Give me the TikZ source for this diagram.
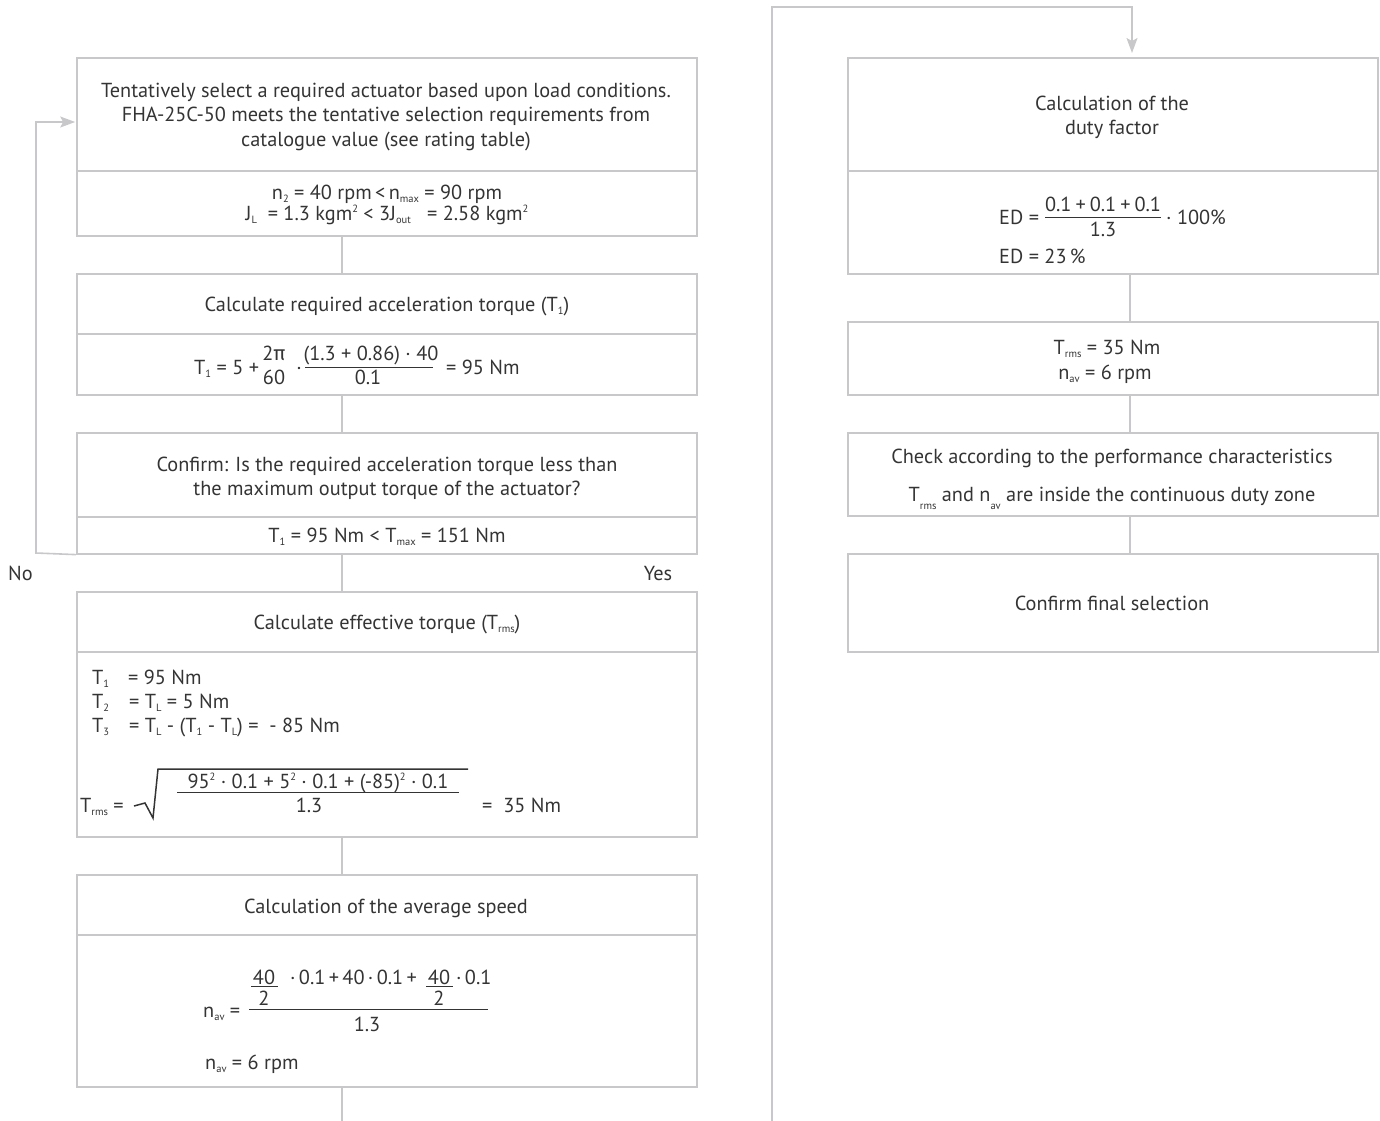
\documentclass[tikz,border=0pt]{standalone}
\usepackage{fontspec}
\setmainfont{PT Sans}
\newfontfamily\grk{Fira Sans}
\usetikzlibrary{arrows.meta}
\definecolor{linec}{RGB}{200,200,203}
\definecolor{txt}{RGB}{52,52,52}
\newcommand{\lo}[1]{\raisebox{-0.35ex}{\fontsize{10.5}{11}\selectfont #1}}
\newcommand{\llo}[1]{\raisebox{-0.8ex}{\fontsize{10.5}{11}\selectfont #1}}
\newcommand{\hi}[1]{\raisebox{0.7ex}{\fontsize{10.5}{11}\selectfont #1}}
\begin{document}
\begin{tikzpicture}[x=1pt,y=-1pt,
  sec/.style={draw=linec, line width=1.6pt, rectangle, inner sep=0pt, anchor=north west},
  conn/.style={draw=linec, line width=1.6pt},
  arr/.style={conn, -{Stealth[length=15pt,width=11pt,inset=3pt]}},
  lbl/.style={inner sep=0pt, text=txt, font=\fontsize{20.3}{24}\selectfont, anchor=base},
  lblw/.style={lbl, anchor=base west},
  fbar/.style={draw=txt, line width=1pt}
]
\useasboundingbox (0,0) rectangle (1380,1120);

% ---------- boxes, left column ----------
\node[sec, minimum width=620pt, minimum height=113pt] (b1a) at (76,57) {};
\node[sec, minimum width=620pt, minimum height=65pt]  (b1b) at (76,170) {};
\node[sec, minimum width=620pt, minimum height=60pt]  (b2a) at (76,273) {};
\node[sec, minimum width=620pt, minimum height=61pt]  (b2b) at (76,333) {};
\node[sec, minimum width=620pt, minimum height=84pt]  (b3a) at (76,432) {};
\node[sec, minimum width=620pt, minimum height=37pt]  (b3b) at (76,516) {};
\node[sec, minimum width=620pt, minimum height=60pt]  (b4a) at (76,591) {};
\node[sec, minimum width=620pt, minimum height=185pt] (b4b) at (76,651) {};
\node[sec, minimum width=620pt, minimum height=60pt]  (b5a) at (76,874) {};
\node[sec, minimum width=620pt, minimum height=152pt] (b5b) at (76,934) {};

% ---------- boxes, right column ----------
\node[sec, minimum width=530pt, minimum height=113pt] (b6a) at (847,57) {};
\node[sec, minimum width=530pt, minimum height=103pt] (b6b) at (847,170) {};
\node[sec, minimum width=530pt, minimum height=73pt]  (b7)  at (847,321) {};
\node[sec, minimum width=530pt, minimum height=83pt]  (b8)  at (847,432) {};
\node[sec, minimum width=530pt, minimum height=98pt]  (b9)  at (847,553) {};

% ---------- connectors ----------
\coordinate (lx) at (342,0);
\coordinate (rx) at (1130,0);
\draw[conn] (b1b.south -| lx) -- (b2a.north -| lx);
\draw[conn] (b2b.south -| lx) -- (b3a.north -| lx);
\draw[conn] (b3b.south -| lx) -- (b4a.north -| lx);
\draw[conn] (b4b.south -| lx) -- (b5a.north -| lx);
\coordinate (endL) at (342,1121);
\draw[conn] (b5b.south -| lx) -- (endL);

\draw[conn] (b6b.south -| rx) -- (b7.north -| rx);
\draw[conn] (b7.south -| rx) -- (b8.north -| rx);
\draw[conn] (b8.south -| rx) -- (b9.north -| rx);

\coordinate (p1) at (772,1121);
\coordinate (p2) at (772,7);
\coordinate (p3) at (1132,7);
\draw[arr, shorten >=4pt] (p1) -- (p2) -- (p3) -- (b6a.north -| p3);

\coordinate (f1) at (36,553);
\coordinate (f2) at (36,122);
\draw[arr, shorten >=0.8pt] (b3b.south west) -- (f1) -- (f2) -- (b1a.west |- f2);

\node[lblw] (no) at (8,580) {No};
\node[lbl] (yes) at (658,580) {Yes};

% ---------- box 1 ----------
\node[lbl] (t1a) at (386,97) {Tentatively select a required actuator based upon load conditions.};
\node[lbl] (t1b) at (386,121) {FHA-25C-50 meets the tentative selection requirements from};
\node[lbl] (t1c) at (386,146) {catalogue value (see rating table)};
\node[lbl] (t1d) at (387,199) {n\lo{2} = 40 rpm\,<\,n\lo{max} = 90 rpm};
\node[lbl] (t1e) at (387,220) {J\lo{L}\ \ = 1.3 kgm\hi{2} < 3J\lo{out}\ \ \ = 2.58 kgm\hi{2}};

% ---------- box 2 ----------
\node[lbl] (t2a) at (387,311) {Calculate required acceleration torque (T\lo{1})};
\node[lblw] (t2b) at (194,374) {T\lo{1} = 5 +};
\node[lbl] (t2c) at (274,360) {2{\grk π}};
\node[lbl] (t2d) at (274,384) {60};
\node[lbl] (t2e) at (299,374) {·};
\node[lbl] (t2f) at (371,360) {(1.3 + 0.86) · 40};
\node[lbl] (t2g) at (368,384) {0.1};
\node[lblw] (t2h) at (446,374) {= 95 Nm};
\draw[fbar] (305,367) -- (433,367);

% ---------- box 3 ----------
\node[lbl] (t3a) at (387,471) {Confirm: Is the required acceleration torque less than};
\node[lbl] (t3b) at (387,495) {the maximum output torque of the actuator?};
\node[lbl] (t3c) at (387,542) {T\lo{1} = 95 Nm < T\lo{max} = 151 Nm};

% ---------- box 4 ----------
\node[lbl] (t4a) at (387,629) {Calculate effective torque (T\lo{rms})};
\node[lblw] (t4b) at (92,684) {T\lo{1}};
\node[lblw] (t4c) at (128,684) {= 95 Nm};
\node[lblw] (t4d) at (92,708) {T\lo{2}};
\node[lblw] (t4e) at (129,708) {= T\lo{L} = 5 Nm};
\node[lblw] (t4f) at (92,732) {T\lo{3}};
\node[lblw] (t4g) at (129,732) {= T\lo{L} - (T\lo{1} - T\lo{L}) =\ \ - 85 Nm};
\node[lblw] (t4h) at (80,812) {T\lo{rms} =};
\draw[draw=txt, line width=1.5pt, line join=miter] (134,806) -- (145,803) -- (153,818) -- (158,769) -- (468,769);
\node[lbl] (t4i) at (318,788) {95\hi{2} · 0.1 + 5\hi{2} · 0.1 + (-85)\hi{2} · 0.1};
\draw[fbar] (177,792) -- (459,792);
\node[lbl] (t4j) at (309,812) {1.3};
\node[lblw] (t4k) at (482,812) {=\ \ 35 Nm};

% ---------- box 5 ----------
\node[lbl] (t5a) at (386,913) {Calculation of the average speed};
\node[lblw] (t5b) at (203,1017) {n\lo{av} =};
\draw[fbar] (249,1009) -- (488,1009);
\node[lbl] (t5c) at (264,984) {40};
\draw[fbar] (251,986) -- (278,986);
\node[lbl] (t5d) at (264,1005) {2};
\node[lblw] (t5e) at (290,984) {·\,0.1\,+\,40\,·\,0.1\,+};
\node[lbl] (t5f) at (439,984) {40};
\draw[fbar] (426,986) -- (453,986);
\node[lbl] (t5g) at (439,1005) {2};
\node[lblw] (t5h) at (456,984) {·\,0.1};
\node[lbl] (t5i) at (367,1031) {1.3};
\node[lblw] (t5j) at (205,1069) {n\lo{av} = 6 rpm};

% ---------- box 6 ----------
\node[lbl] (t6a) at (1112,110) {Calculation of the};
\node[lbl] (t6b) at (1112,134) {duty factor};
\node[lblw] (t6c) at (999,224) {ED =};
\node[lbl] (t6d) at (1103,211) {0.1\hspace{4pt}+\hspace{4pt}0.1\hspace{4pt}+\hspace{4pt}0.1};
\draw[fbar] (1045,217) -- (1161,217);
\node[lbl] (t6e) at (1103,236) {1.3};
\node[lblw] (t6f) at (1166,224) {· 100\%};
\node[lblw] (t6g) at (999,263) {ED = 23\,\%};

% ---------- box 7 ----------
\node[lbl] (t7a) at (1107,354) {T\lo{rms} = 35 Nm};
\node[lbl] (t7b) at (1105,379) {n\lo{av} = 6 rpm};

% ---------- box 8 ----------
\node[lbl] (t8a) at (1112,463) {Check according to the performance characteristics};
\node[lbl] (t8b) at (1112,501) {T\llo{rms} and n\llo{av} are inside the continuous duty zone};

% ---------- box 9 ----------
\node[lbl] (t9a) at (1112,610) {Confirm final selection};
\end{tikzpicture}
\end{document}
